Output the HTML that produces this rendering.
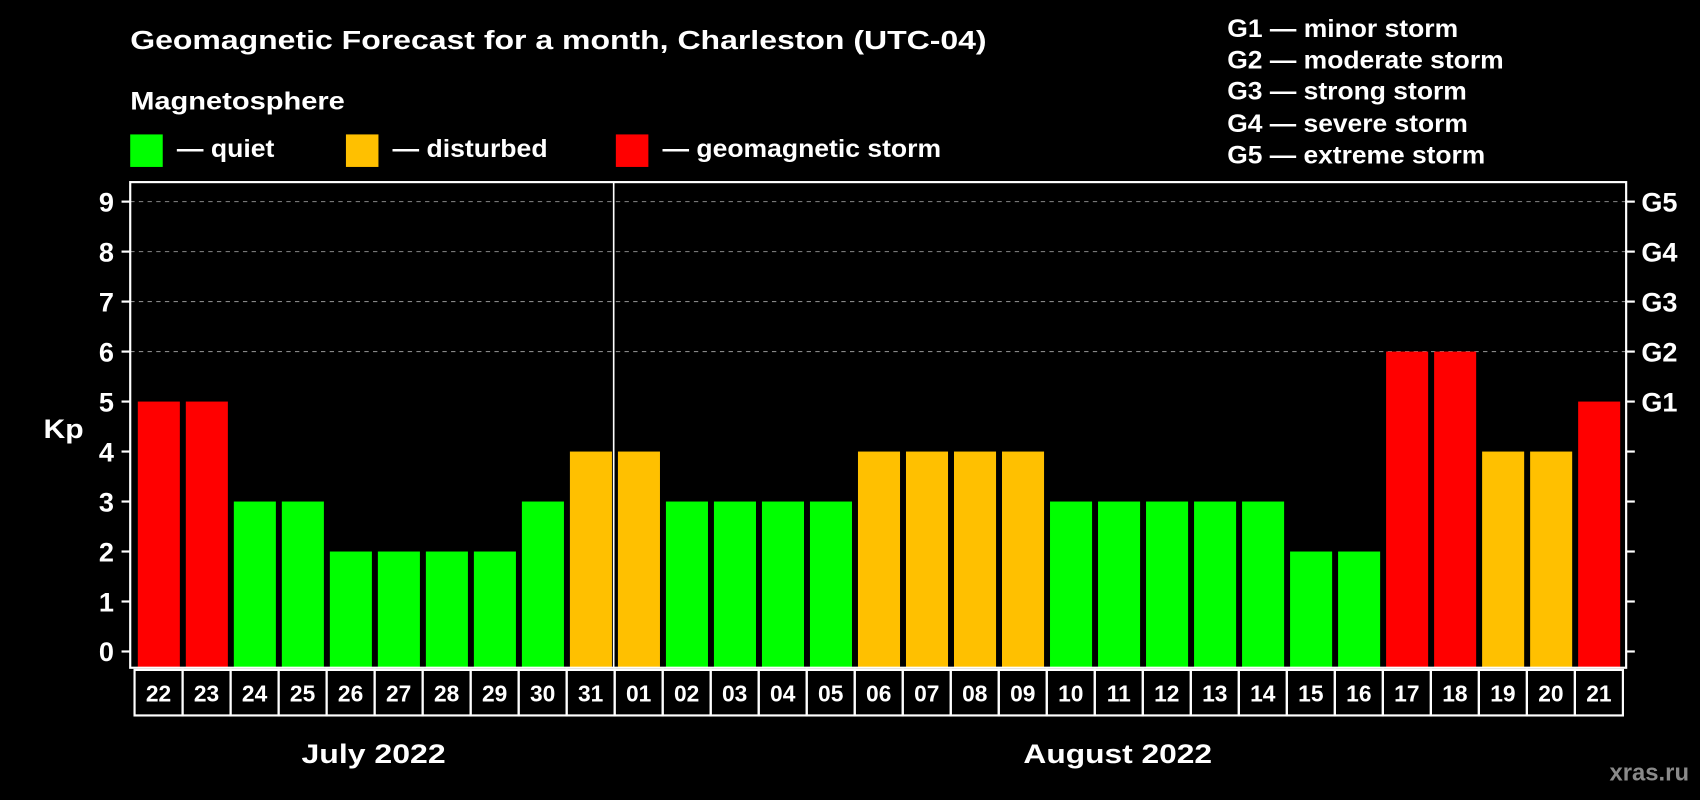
<!DOCTYPE html>
<html><head><meta charset="utf-8"><style>
html,body{margin:0;padding:0;background:#000;width:1700px;height:800px;overflow:hidden}
svg{display:block}
text{font-family:"Liberation Sans",Arial,sans-serif;font-weight:bold;fill:#fff}
</style></head><body>
<svg id="chart" width="1700" height="800" viewBox="0 0 1568 738" xmlns="http://www.w3.org/2000/svg">
<rect width="1568" height="738" fill="#000"/>
<text x="120" y="45" font-size="24" textLength="790" lengthAdjust="spacingAndGlyphs">Geomagnetic Forecast for a month, Charleston (UTC-04)</text>
<text x="120" y="101" font-size="23" textLength="198" lengthAdjust="spacingAndGlyphs">Magnetosphere</text>
<rect x="120" y="124" width="30" height="30" fill="#00ff00"/>
<text x="163" y="145" font-size="23" textLength="90" lengthAdjust="spacingAndGlyphs">— quiet</text>
<rect x="319" y="124" width="30" height="30" fill="#ffc000"/>
<text x="362" y="145" font-size="23" textLength="143" lengthAdjust="spacingAndGlyphs">— disturbed</text>
<rect x="568" y="124" width="30" height="30" fill="#ff0000"/>
<text x="611" y="145" font-size="23" textLength="257" lengthAdjust="spacingAndGlyphs">— geomagnetic storm</text>
<g font-size="23">
<text x="1132" y="34" textLength="213" lengthAdjust="spacingAndGlyphs">G1 — minor storm</text>
<text x="1132" y="63" textLength="255" lengthAdjust="spacingAndGlyphs">G2 — moderate storm</text>
<text x="1132" y="92" textLength="221" lengthAdjust="spacingAndGlyphs">G3 — strong storm</text>
<text x="1132" y="122" textLength="222" lengthAdjust="spacingAndGlyphs">G4 — severe storm</text>
<text x="1132" y="151" textLength="238" lengthAdjust="spacingAndGlyphs">G5 — extreme storm</text>
</g>
<text x="40" y="404" font-size="25" textLength="37" lengthAdjust="spacingAndGlyphs">Kp</text>
<g id="plot"></g>
<text x="278" y="704" font-size="25" textLength="133" lengthAdjust="spacingAndGlyphs">July 2022</text>
<text x="944" y="704" font-size="25" textLength="174" lengthAdjust="spacingAndGlyphs">August 2022</text>
<text x="1558" y="720" font-size="22" style="fill:#8a8a8a" text-anchor="end">xras.ru</text>
</svg>
<script>
const days=["22","23","24","25","26","27","28","29","30","31","01","02","03","04","05","06","07","08","09","10","11","12","13","14","15","16","17","18","19","20","21"];
const kpValues=[5,5,3,3,2,2,2,2,3,4,4,3,3,3,3,4,4,4,4,3,3,3,3,3,2,2,6,6,4,4,5];
const yTicks=[0,1,2,3,4,5,6,7,8,9];
const gLabels=["G1","G2","G3","G4","G5"];
const gLevels=[5,6,7,8,9];
const NS="http://www.w3.org/2000/svg";
const L=120,R=1500,T=168,B=616,x0=124,pitch=(1497-124)/31;
const yS=v=>601-v*(601-186)/9;
const xS=i=>x0+i*pitch;
const g=document.getElementById('plot');
function mk(t,a,p){const e=document.createElementNS(NS,t);for(const k in a)e.setAttribute(k,a[k]);(p||g).appendChild(e);return e;}
function color(v){return v>=5?"#ff0000":v==4?"#ffc000":"#00ff00";}
gLevels.forEach(v=>{if(v>5){const l=mk('line',{x1:L,x2:R,y1:yS(v),y2:yS(v),stroke:'#888','stroke-dasharray':'4 4','stroke-width':1});

}});
kpValues.forEach((v,i)=>{const r=mk('rect',{x:xS(i)+3,y:yS(v),width:pitch-5.5,height:B-yS(v),fill:color(v)});


const c=mk('rect',{x:xS(i),y:618,width:pitch,height:42,fill:'none',stroke:'#fff','stroke-width':2});


const t=mk('text',{x:xS(i)+pitch/2,y:647,'font-size':21,'text-anchor':'middle'});t.textContent=days[i];

});
const fr=mk('rect',{x:L,y:T,width:R-L,height:B-T,fill:'none',stroke:'#fff','stroke-width':2});


const sep=mk('line',{x1:566,x2:566,y1:T,y2:B,stroke:'#fff','stroke-width':1.5});


yTicks.forEach(v=>{mk('line',{x1:112,x2:L,y1:yS(v),y2:yS(v),stroke:'#fff','stroke-width':2});
mk('line',{x1:R,x2:1508,y1:yS(v),y2:yS(v),stroke:'#fff','stroke-width':2});
const t=mk('text',{x:105,y:yS(v)+9,'font-size':25,'text-anchor':'end'});t.textContent=v;

});
gLevels.forEach((v,i)=>{const t=mk('text',{x:1514,y:yS(v)+9,'font-size':25});t.textContent=gLabels[i];

});
</script>
</body></html>
